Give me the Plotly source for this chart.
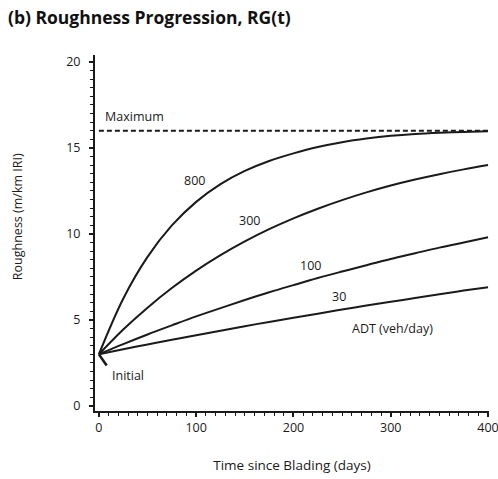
import plotly.graph_objects as go

# Data
time_days = [0, 25, 50, 75, 100, 125, 150, 175, 200, 225, 250, 275, 300, 325, 350, 375, 400]
rough_800 = [3.0, 6.23, 8.66, 10.49, 11.86, 12.89, 13.66, 14.24, 14.68, 15.05, 15.33, 15.54, 15.7, 15.81, 15.88, 15.93, 15.97]
rough_300 = [3.0, 4.44, 5.71, 6.85, 7.86, 8.76, 9.56, 10.27, 10.9, 11.46, 11.96, 12.41, 12.81, 13.16, 13.47, 13.75, 14.0]
rough_100 = [3.0, 3.59, 4.15, 4.68, 5.2, 5.68, 6.15, 6.6, 7.02, 7.43, 7.81, 8.18, 8.54, 8.87, 9.2, 9.5, 9.8]
rough_30 = [3.0, 3.29, 3.57, 3.84, 4.11, 4.37, 4.63, 4.88, 5.12, 5.36, 5.6, 5.83, 6.05, 6.27, 6.49, 6.7, 6.9]
max_x = [0, 400]
max_y = [16, 16]
x_ticks = [0, 100, 200, 300, 400]
y_ticks = [0, 5, 10, 15, 20]

FONT = "Open Sans"
INK = "#1a1a1a"

fig = go.Figure()
for ys in [rough_800, rough_300, rough_100, rough_30]:
    fig.add_trace(go.Scatter(x=time_days, y=ys, mode="lines",
                             line=dict(color=INK, width=2, shape="spline", smoothing=1.0),
                             showlegend=False, hoverinfo="skip"))
fig.add_trace(go.Scatter(x=max_x, y=max_y, mode="lines",
                         line=dict(color=INK, width=2, dash="5px,3px"),
                         showlegend=False, hoverinfo="skip"))

labels = [
    ("Maximum", 4, 16.8, "left"),
    ("800", 98, 13.1, "center"),
    ("300", 155, 10.76, "center"),
    ("100", 217, 8.14, "center"),
    ("30", 247, 6.34, "center"),
    ("ADT (veh/day)", 302, 4.48, "center"),
    ("Initial", 11, 1.74, "left"),
]
for txt, x, y, anc in labels:
    fig.add_annotation(x=x, y=y, text=txt, showarrow=False, xanchor=anc,
                       font=dict(family=FONT, size=12.5, color=INK))

fig.add_shape(type="line", x0=0, y0=3, x1=8, y1=2.35,
              line=dict(color=INK, width=2.5))

fig.add_annotation(xref="paper", yref="paper", x=-0.195, y=0.545,
                   xanchor="center", yanchor="middle",
                   text="Roughness (m/km IRI)", textangle=-90, showarrow=False,
                   font=dict(family=FONT, size=12.5, color=INK))

fig.update_layout(
    width=498, height=479,
    margin=dict(l=95, r=9, t=55, b=68, autoexpand=False),
    paper_bgcolor="white", plot_bgcolor="white",
    title=dict(text="<b>(b) Roughness Progression, RG(t)</b>", x=0.016, xanchor="left",
               y=0.962, yanchor="middle",
               font=dict(family=FONT, size=17.5, color="#111")),
    xaxis=dict(range=[-4, 401], tickvals=x_ticks, showgrid=False, zeroline=False,
               showline=True, linecolor=INK, linewidth=2, automargin=False,
               ticks="outside", ticklen=4, tickwidth=1.5, tickcolor=INK,
               minor=dict(dtick=10, ticks="outside", ticklen=3, tickcolor=INK, tickwidth=1),
               tickfont=dict(family=FONT, size=12.5, color=INK),
               ticklabeloverflow="allow",
               title=dict(text="Time since Blading (days)", standoff=26,
                          font=dict(family=FONT, size=13.5, color=INK))),
    yaxis=dict(range=[-0.3, 20.4], tickvals=y_ticks, showgrid=False, zeroline=False,
               showline=True, linecolor=INK, linewidth=2, automargin=False,
               ticks="outside", ticklen=4, tickwidth=1.5, tickcolor=INK,
               minor=dict(dtick=0.5, ticks="outside", ticklen=3, tickcolor=INK, tickwidth=1),
               tickfont=dict(family=FONT, size=12.5, color=INK),
               ticklabelstandoff=6),
)

fig.write_html("out.html")
